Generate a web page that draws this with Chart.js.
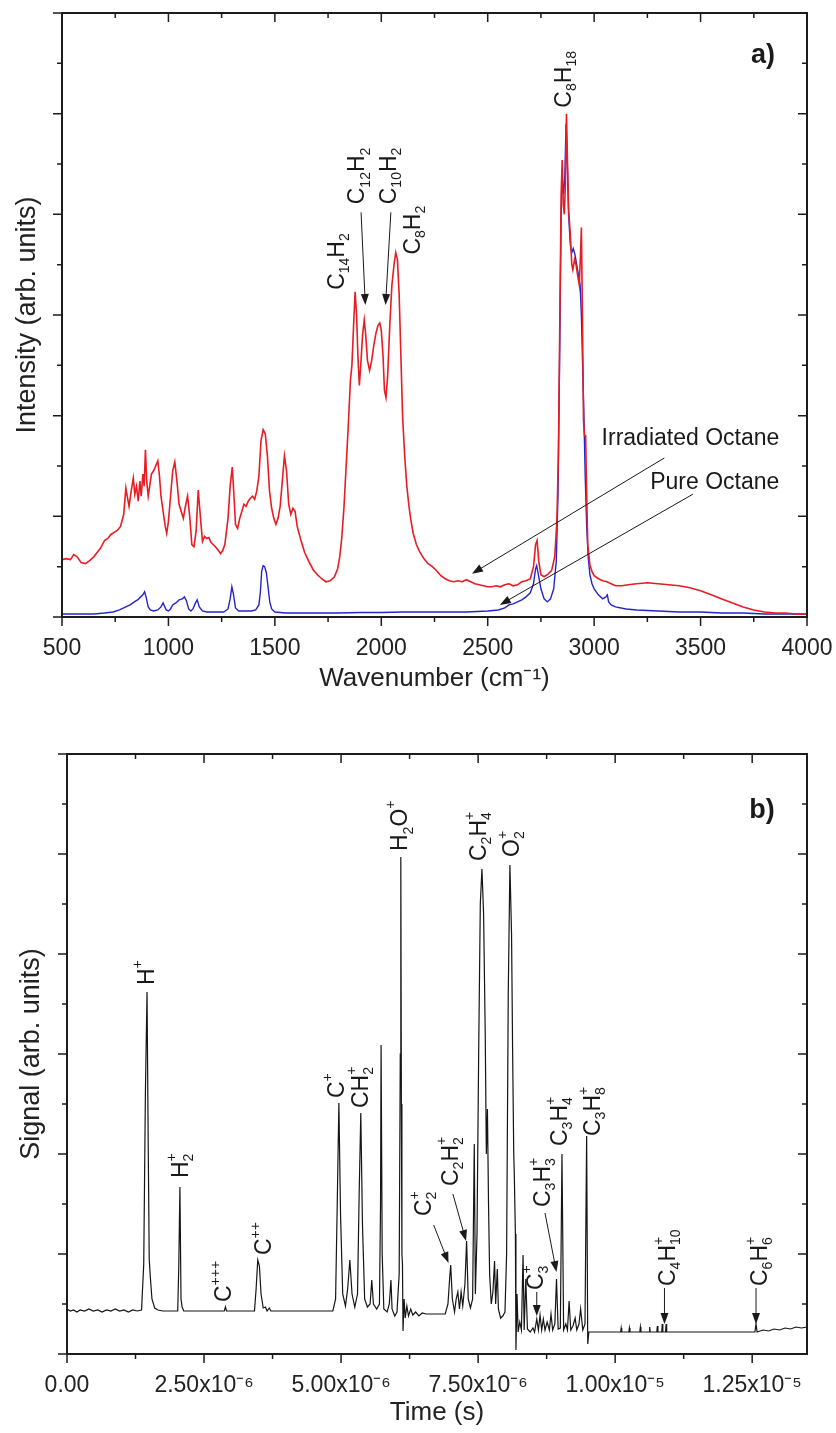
<!DOCTYPE html>
<html lang="en">
<head>
    <meta charset="UTF-8">
    <title>Raman and TOF spectra of octane</title>
    <style>
        * { margin: 0; padding: 0; }
        body { width: 836px; height: 1433px; background: #fff; position: relative; overflow: hidden; }
        canvas { position: absolute; left: 0; }
        #ramanChart { top: 0; }
        #tofChart { top: 705px; }
    </style>
</head>
<body>
    <canvas id="ramanChart" width="836" height="705"></canvas>
    <canvas id="tofChart" width="836" height="728"></canvas>

    <script src="https://cdn.jsdelivr.net/npm/chart.js"></script>
    <script>
        // ---- a) Raman spectra (wavenumber in cm-1, intensity arb. units) ----
        const irradiatedWavenumber = [500, 520, 540, 555, 570, 590, 610, 630, 650, 665, 680, 700, 715, 730, 745, 760, 775, 790, 800, 808, 815, 825, 835, 842, 850, 858, 866, 872, 880, 886, 892, 898, 905, 912, 920, 930, 940, 950, 958, 965, 975, 985, 992, 1000, 1010, 1020, 1030, 1040, 1050, 1060, 1070, 1080, 1090, 1100, 1110, 1120, 1130, 1140, 1150, 1160, 1170, 1180, 1190, 1200, 1210, 1220, 1235, 1245, 1255, 1265, 1280, 1290, 1300, 1308, 1315, 1325, 1335, 1345, 1355, 1365, 1375, 1385, 1395, 1405, 1415, 1425, 1435, 1445, 1455, 1465, 1475, 1485, 1495, 1505, 1515, 1525, 1535, 1545, 1555, 1565, 1575, 1585, 1595, 1605, 1620, 1640, 1660, 1680, 1700, 1720, 1740, 1760, 1780, 1795, 1805, 1815, 1825, 1835, 1845, 1855, 1862, 1870, 1877, 1884, 1890, 1897, 1905, 1912, 1920, 1927, 1935, 1945, 1955, 1965, 1975, 1985, 1993, 2000, 2008, 2015, 2022, 2030, 2040, 2050, 2060, 2068, 2076, 2084, 2092, 2100, 2110, 2120, 2130, 2140, 2150, 2165, 2180, 2200, 2220, 2240, 2260, 2280, 2300, 2320, 2340, 2360, 2380, 2400, 2420, 2440, 2460, 2480, 2500, 2520, 2540, 2560, 2580, 2600, 2620, 2640, 2660, 2680, 2700, 2715, 2725, 2732, 2740, 2750, 2765, 2780, 2800, 2815, 2825, 2832, 2838, 2845, 2850, 2855, 2860, 2865, 2870, 2875, 2880, 2888, 2895, 2900, 2908, 2915, 2922, 2930, 2936, 2940, 2945, 2950, 2955, 2960, 2965, 2970, 2980, 2990, 3000, 3020, 3040, 3060, 3080, 3100, 3130, 3160, 3200, 3250, 3300, 3350, 3400, 3450, 3500, 3550, 3600, 3650, 3700, 3750, 3800, 3850, 3900, 3950, 4000];
        const irradiatedIntensity = [0.57, 0.58, 0.57, 0.62, 0.6, 0.54, 0.53, 0.56, 0.6, 0.64, 0.68, 0.76, 0.78, 0.82, 0.84, 0.86, 0.9, 1.02, 1.28, 1.18, 1.1, 1.25, 1.38, 1.22, 1.3, 1.15, 1.35, 1.2, 1.42, 1.3, 1.66, 1.35, 1.2, 1.3, 1.42, 1.45, 1.5, 1.55, 1.4, 1.2, 1.05, 0.9, 0.83, 0.95, 1.2, 1.45, 1.54, 1.35, 1.12, 1.05, 0.98, 1.1, 1.2, 1.0, 0.72, 0.7, 0.85, 1.26, 1.0, 0.75, 0.8, 0.78, 0.79, 0.74, 0.72, 0.7, 0.66, 0.63, 0.66, 0.72, 0.98, 1.3, 1.49, 1.2, 0.92, 0.88, 0.98, 1.05, 1.12, 1.1, 1.15, 1.18, 1.2, 1.17, 1.25, 1.4, 1.75, 1.86, 1.82, 1.6, 1.25, 1.08, 0.98, 0.92, 0.98, 1.1, 1.35, 1.6, 1.45, 1.12, 1.02, 1.08, 1.05, 0.9, 0.78, 0.64, 0.55, 0.47, 0.42, 0.38, 0.35, 0.36, 0.4, 0.48, 0.6, 0.8, 1.1, 1.5, 1.9, 2.35, 2.5, 2.9, 3.23, 3.0, 2.6, 2.3, 2.55, 2.8, 2.95, 2.8, 2.55, 2.45, 2.55, 2.7, 2.82, 2.9, 2.92, 2.85, 2.6, 2.25, 2.18, 2.4, 2.9, 3.3, 3.5, 3.62, 3.55, 3.2, 2.6, 2.0, 1.6, 1.3, 1.1, 0.95, 0.83, 0.72, 0.65, 0.58, 0.53, 0.5, 0.46, 0.41, 0.38, 0.36, 0.35, 0.36, 0.35, 0.37, 0.35, 0.33, 0.32, 0.31, 0.3, 0.3, 0.31, 0.3, 0.32, 0.33, 0.31, 0.32, 0.35, 0.36, 0.38, 0.5, 0.72, 0.76, 0.55, 0.42, 0.4, 0.42, 0.46, 0.6, 0.95, 1.6, 2.8, 4.2, 4.54, 4.1, 4.0, 4.3, 5.0, 4.5, 4.05, 3.8, 3.5, 3.45, 3.55, 3.5, 3.4, 3.3, 3.6, 3.87, 3.0, 1.95, 1.8, 1.8, 1.2, 0.72, 0.52, 0.45, 0.41, 0.38, 0.36, 0.35, 0.33, 0.31, 0.31, 0.32, 0.33, 0.34, 0.33, 0.32, 0.31, 0.29, 0.26, 0.22, 0.18, 0.14, 0.1, 0.07, 0.05, 0.04, 0.04, 0.03, 0.03];

        const pureWavenumber = [500, 550, 600, 650, 700, 740, 770, 800, 820, 840, 855, 870, 880, 888, 895, 905, 915, 930, 950, 965, 975, 983, 990, 1000, 1010, 1020, 1035, 1050, 1065, 1075, 1085, 1095, 1105, 1115, 1125, 1135, 1145, 1160, 1180, 1200, 1230, 1260, 1280, 1290, 1298, 1306, 1315, 1330, 1360, 1390, 1410, 1425, 1432, 1438, 1445, 1452, 1460, 1468, 1476, 1485, 1500, 1550, 1600, 1700, 1800, 1900, 2000, 2100, 2200, 2300, 2400, 2500, 2550, 2580, 2600, 2620, 2640, 2660, 2680, 2700, 2715, 2725, 2730, 2738, 2750, 2765, 2780, 2795, 2810, 2822, 2830, 2838, 2845, 2850, 2856, 2862, 2868, 2874, 2880, 2888, 2895, 2902, 2910, 2918, 2926, 2934, 2940, 2946, 2952, 2958, 2965, 2972, 2980, 2990, 3000, 3020, 3040, 3055, 3062, 3068, 3080, 3100, 3150, 3200, 3300, 3400, 3500, 3600, 3700, 3800, 3900, 4000];
        const pureIntensity = [0.03, 0.03, 0.03, 0.03, 0.04, 0.05, 0.07, 0.1, 0.12, 0.15, 0.17, 0.2, 0.22, 0.25, 0.2, 0.1, 0.07, 0.06, 0.07, 0.1, 0.14, 0.1, 0.07, 0.06, 0.08, 0.12, 0.14, 0.17, 0.18, 0.2, 0.16, 0.08, 0.06, 0.08, 0.13, 0.17, 0.1, 0.06, 0.05, 0.05, 0.05, 0.05, 0.08, 0.18, 0.3, 0.22, 0.09, 0.06, 0.06, 0.06, 0.07, 0.12, 0.25, 0.45, 0.51, 0.5, 0.44, 0.3, 0.15, 0.08, 0.05, 0.04, 0.04, 0.04, 0.04, 0.045, 0.045, 0.05, 0.05, 0.05, 0.05, 0.06, 0.07, 0.09, 0.12, 0.13, 0.15, 0.17, 0.2, 0.24, 0.33, 0.48, 0.51, 0.42, 0.28, 0.18, 0.15, 0.18, 0.28, 0.55, 1.2, 2.6, 4.0, 4.37, 4.2, 4.35, 4.9, 4.5, 4.0, 3.7, 3.62, 3.66, 3.6, 3.5, 3.4, 3.3, 3.0, 2.5, 2.0, 1.4, 0.9, 0.6, 0.42, 0.33, 0.28, 0.22, 0.18, 0.2, 0.22, 0.15, 0.12, 0.1, 0.08, 0.07, 0.06, 0.05, 0.05, 0.04, 0.04, 0.03, 0.03, 0.03];

        const ramanTickValues = [500, 1000, 1500, 2000, 2500, 3000, 3500, 4000];
        const ramanTickLabels = ['500', '1000', '1500', '2000', '2500', '3000', '3500', '4000'];
        const ramanMinorTicks = [750, 1250, 1750, 2250, 2750, 3250, 3750];

        // ---- b) time-of-flight mass spectrum (time in microseconds) ----
        const tofTime = [0.00, 0.06, 0.12, 0.18, 0.24, 0.32, 0.40, 0.48, 0.56, 0.64, 0.72, 0.80, 0.88, 0.96, 1.04, 1.12, 1.20, 1.28, 1.36, 1.40, 1.43, 1.46, 1.48, 1.50, 1.52, 1.55, 1.60, 1.66, 1.75, 1.90, 2.02, 2.04, 2.06, 2.08, 2.10, 2.13, 2.50, 2.87, 2.89, 2.91, 3.42, 3.45, 3.48, 3.51, 3.54, 3.58, 3.62, 3.65, 3.69, 3.72, 4.85, 4.90, 4.93, 4.96, 4.99, 5.03, 5.08, 5.12, 5.16, 5.20, 5.25, 5.30, 5.33, 5.36, 5.39, 5.43, 5.48, 5.53, 5.56, 5.59, 5.65, 5.70, 5.72, 5.73, 5.75, 5.78, 5.84, 5.88, 5.91, 5.93, 5.98, 6.02, 6.06, 6.08, 6.09, 6.10, 6.11, 6.12, 6.13, 6.15, 6.17, 6.20, 6.23, 6.27, 6.31, 6.36, 6.42, 6.48, 6.55, 6.90, 6.95, 6.98, 7.00, 7.03, 7.07, 7.10, 7.13, 7.16, 7.19, 7.22, 7.26, 7.29, 7.32, 7.36, 7.40, 7.43, 7.45, 7.48, 7.51, 7.54, 7.57, 7.60, 7.63, 7.65, 7.67, 7.69, 7.71, 7.74, 7.77, 7.80, 7.82, 7.85, 7.87, 7.91, 7.95, 7.99, 8.02, 8.05, 8.08, 8.11, 8.13, 8.15, 8.16, 8.18, 8.19, 8.21, 8.23, 8.26, 8.29, 8.32, 8.34, 8.37, 8.40, 8.45, 8.50, 8.53, 8.57, 8.60, 8.63, 8.66, 8.69, 8.72, 8.76, 8.80, 8.83, 8.86, 8.90, 8.93, 8.96, 9.00, 9.03, 9.06, 9.10, 9.13, 9.16, 9.19, 9.23, 9.27, 9.30, 9.34, 9.37, 9.41, 9.45, 9.48, 9.50, 9.52, 10.10, 10.11, 10.12, 10.25, 10.26, 10.27, 10.45, 10.46, 10.47, 10.62, 10.63, 10.64, 10.76, 10.77, 10.78, 10.85, 10.86, 10.87, 10.92, 10.93, 10.94, 12.55, 12.57, 12.59, 12.70, 12.80, 12.90, 13.00, 13.10, 13.20, 13.30, 13.40, 13.50];
        const tofSignal = [0.45, 0.43, 0.44, 0.42, 0.44, 0.43, 0.45, 0.43, 0.44, 0.42, 0.44, 0.43, 0.45, 0.43, 0.44, 0.42, 0.44, 0.43, 0.44, 0.9, 2.6, 3.62, 2.2, 0.95, 0.77, 0.55, 0.46, 0.44, 0.43, 0.43, 0.43, 0.9, 1.67, 0.55, 0.47, 0.43, 0.43, 0.43, 0.47, 0.43, 0.43, 0.65, 0.94, 0.88, 0.6, 0.46, 0.47, 0.43, 0.46, 0.43, 0.43, 0.55, 1.5, 2.51, 1.4, 0.6, 0.48, 0.65, 0.94, 0.6, 0.47, 0.6, 1.6, 2.41, 1.3, 0.55, 0.47, 0.5, 0.74, 0.5, 0.45, 0.5, 1.5, 3.09, 1.0, 0.45, 0.42, 0.5, 0.74, 0.45, 0.38, 0.42, 0.8, 3.0, 4.97, 2.5, 1.0, 0.9, 0.23, 0.55, 0.36, 0.48, 0.38, 0.45, 0.39, 0.42, 0.38, 0.41, 0.40, 0.40, 0.5, 0.75, 0.89, 0.55, 0.42, 0.55, 0.62, 0.45, 0.62, 0.48, 0.7, 1.13, 0.55, 0.46, 0.55, 2.1, 0.6, 1.2, 3.0, 4.5, 4.85, 4.4, 3.2, 2.0, 2.45, 1.5, 0.8, 0.5, 0.62, 0.93, 0.5, 0.85, 0.45, 0.36, 0.38, 0.42, 1.0, 3.6, 4.89, 4.2, 3.0, 2.0, 1.8, 1.2, 0.04, 0.6, 0.22, 0.32, 0.24, 0.99, 0.24, 0.75, 0.25, 0.22, 0.26, 0.22, 0.35, 0.24, 0.39, 0.24, 0.35, 0.24, 0.32, 0.24, 0.4, 0.24, 0.3, 0.75, 0.25, 0.26, 2.0, 0.24, 0.3, 0.24, 0.53, 0.24, 0.28, 0.36, 0.24, 0.3, 0.45, 0.24, 0.3, 2.18, 0.1, 0.22, 0.22, 0.26, 0.22, 0.22, 0.26, 0.22, 0.22, 0.27, 0.22, 0.22, 0.27, 0.22, 0.22, 0.28, 0.22, 0.22, 0.3, 0.22, 0.22, 0.3, 0.22, 0.22, 0.3, 0.22, 0.24, 0.23, 0.25, 0.24, 0.26, 0.25, 0.27, 0.26, 0.27];

        const tofTickValues = [0, 2.5, 5, 7.5, 10, 12.5];
        const tofTickLabels = ['0.00', '2.50x10⁻⁶', '5.00x10⁻⁶', '7.50x10⁻⁶', '1.00x10⁻⁵', '1.25x10⁻⁵'];
        const tofMinorTicks = [1.25, 3.75, 6.25, 8.75, 11.25];

        // both panels use arbitrary intensity units from 0 to 6
        const signalMajorTicks = [0, 1, 2, 3, 4, 5, 6];
        const signalMinorTicks = [0.5, 1.5, 2.5, 3.5, 4.5, 5.5];

        const FONT = '"Liberation Sans", Arial, sans-serif';

        // frame with inward ticks on top/right and outward ticks on bottom/left
        const frameTicks = {
            id: 'frameTicks',
            afterDraw(chart, args, opts) {
                const { ctx, chartArea: a, scales: { x, y } } = chart;
                ctx.save();
                ctx.strokeStyle = '#1c1c1c';
                ctx.lineWidth = 1.5;
                ctx.beginPath();
                const mark = (vals, len, horizontal) => {
                    vals.forEach(v => {
                        if (horizontal) {
                            const px = x.getPixelForValue(v);
                            ctx.moveTo(px, a.bottom); ctx.lineTo(px, a.bottom + len);
                            ctx.moveTo(px, a.top); ctx.lineTo(px, a.top + len);
                        } else {
                            const py = y.getPixelForValue(v);
                            ctx.moveTo(a.left, py); ctx.lineTo(a.left - len, py);
                            ctx.moveTo(a.right, py); ctx.lineTo(a.right - len, py);
                        }
                    });
                };
                mark(opts.xMajor, 9, true);
                mark(opts.xMinor, 5, true);
                mark(opts.yMajor, 9, false);
                mark(opts.yMinor, 5, false);
                ctx.stroke();
                ctx.lineWidth = 2;
                ctx.strokeRect(a.left, a.top, a.right - a.left, a.bottom - a.top);
                ctx.restore();
            }
        };

        function parseFormula(s) {
            const parts = [];
            const re = /_(\d+)|\^(\++)|([A-Za-z]+)/g;
            let m;
            while ((m = re.exec(s))) {
                if (m[1]) parts.push([m[1], 'sub']);
                else if (m[2]) parts.push([m[2], 'sup']);
                else parts.push([m[3], '']);
            }
            return parts;
        }

        // rotated chemical formula, starting at (px, py) and reading upwards
        function drawFormula(ctx, text, px, py, size) {
            const sub = Math.round(size * 0.62);
            ctx.save();
            ctx.translate(px, py);
            ctx.rotate(-Math.PI / 2);
            ctx.textBaseline = 'middle';
            ctx.textAlign = 'left';
            let pos = 0;
            let lastSub = null;
            parseFormula(text).forEach(([t, kind]) => {
                if (kind === '') {
                    ctx.font = size + 'px ' + FONT;
                    ctx.fillText(t, pos, 0);
                    pos += ctx.measureText(t).width;
                    lastSub = null;
                } else if (kind === 'sub') {
                    ctx.font = sub + 'px ' + FONT;
                    const w = ctx.measureText(t).width;
                    ctx.fillText(t, pos, size * 0.34);
                    lastSub = pos;
                    pos += w;
                } else {
                    ctx.font = sub + 'px ' + FONT;
                    const w = ctx.measureText(t).width;
                    const start = lastSub !== null ? lastSub : pos;
                    ctx.fillText(t, start, -size * 0.4);
                    pos = Math.max(pos, start + w);
                }
            });
            ctx.restore();
        }

        function drawArrow(ctx, x1, y1, x2, y2) {
            const ang = Math.atan2(y2 - y1, x2 - x1);
            const hl = 11, hw = 4;
            ctx.beginPath();
            ctx.moveTo(x1, y1);
            ctx.lineTo(x2 - Math.cos(ang) * hl * 0.8, y2 - Math.sin(ang) * hl * 0.8);
            ctx.stroke();
            ctx.beginPath();
            ctx.moveTo(x2, y2);
            ctx.lineTo(x2 - Math.cos(ang) * hl - Math.sin(ang) * hw, y2 - Math.sin(ang) * hl + Math.cos(ang) * hw);
            ctx.lineTo(x2 - Math.cos(ang) * hl + Math.sin(ang) * hw, y2 - Math.sin(ang) * hl - Math.cos(ang) * hw);
            ctx.closePath();
            ctx.fill();
        }

        const specAnno = {
            id: 'specAnno',
            afterDatasetsDraw(chart, args, opts) {
                const { ctx, scales: { x, y } } = chart;
                ctx.save();
                ctx.fillStyle = '#1a1a1a';
                ctx.strokeStyle = '#1a1a1a';
                ctx.lineWidth = 1;
                (opts.formulas || []).forEach(f => {
                    drawFormula(ctx, f.text, x.getPixelForValue(f.x), y.getPixelForValue(f.y), 23);
                });
                (opts.arrows || []).forEach(a => {
                    drawArrow(ctx, x.getPixelForValue(a[0]), y.getPixelForValue(a[1]),
                        x.getPixelForValue(a[2]), y.getPixelForValue(a[3]));
                });
                (opts.texts || []).forEach(t => {
                    ctx.font = (t.bold ? 'bold ' : '') + t.size + 'px ' + FONT;
                    ctx.textAlign = t.align || 'center';
                    ctx.textBaseline = 'middle';
                    ctx.fillText(t.text, x.getPixelForValue(t.x), y.getPixelForValue(t.y));
                });
                ctx.restore();
            }
        };

        function toPoints(xs, ys) {
            return xs.map((v, i) => ({ x: v, y: ys[i] }));
        }

        function baseOptions(cfg) {
            return {
                responsive: false,
                animation: false,
                devicePixelRatio: 1,
                layout: { padding: { top: cfg.top, right: 29, left: 0, bottom: 0 } },
                elements: { point: { radius: 0 }, line: { tension: 0 } },
                plugins: {
                    legend: { display: false },
                    tooltip: { enabled: false },
                    frameTicks: cfg.frame,
                    specAnno: cfg.anno
                },
                scales: {
                    x: {
                        type: 'linear',
                        min: cfg.xMin,
                        max: cfg.xMax,
                        afterBuildTicks: s => { s.ticks = cfg.tickValues.map(v => ({ value: v })); },
                        afterFit: s => {
                            s.height = cfg.xHeight;
                            // edge labels may hang over the frame; keep the plot area fixed
                            s.paddingLeft = 0;
                            s.paddingRight = 0;
                        },
                        ticks: {
                            autoSkip: false,
                            maxRotation: 0,
                            padding: 18,
                            color: '#222',
                            font: { family: FONT, size: 23 },
                            callback: v => cfg.tickLabels[cfg.tickValues.indexOf(v)]
                        },
                        grid: { display: false, drawTicks: false },
                        border: { display: false },
                        title: {
                            display: true,
                            text: cfg.xTitle,
                            color: '#222',
                            font: { family: FONT, size: 26 },
                            padding: { top: 0, bottom: cfg.xTitlePad }
                        }
                    },
                    y: {
                        min: 0,
                        max: 6,
                        afterFit: s => { s.width = cfg.yWidth; },
                        ticks: { display: false },
                        grid: { display: false, drawTicks: false },
                        border: { display: false },
                        title: {
                            display: true,
                            text: cfg.yTitle,
                            color: '#222',
                            font: { family: FONT, size: 27 },
                            padding: { top: cfg.yTitlePad, bottom: 0 }
                        }
                    }
                }
            };
        }

        new Chart(document.getElementById('ramanChart'), {
            type: 'line',
            data: {
                datasets: [
                    { label: 'Irradiated Octane', data: toPoints(irradiatedWavenumber, irradiatedIntensity), borderColor: 'rgb(232,28,36)', borderWidth: 1.6 },
                    { label: 'Pure Octane', data: toPoints(pureWavenumber, pureIntensity), borderColor: 'rgb(36,36,205)', borderWidth: 1.4 }
                ]
            },
            options: baseOptions({
                top: 13, xMin: 500, xMax: 4000, xHeight: 88, yWidth: 62,
                xTitlePad: 11, yTitlePad: 11,
                tickValues: ramanTickValues, tickLabels: ramanTickLabels,
                xTitle: 'Wavenumber (cm⁻¹)', yTitle: 'Intensity (arb. units)',
                frame: { xMajor: ramanTickValues, xMinor: ramanMinorTicks, yMajor: signalMajorTicks, yMinor: signalMinorTicks },
                anno: {
                    formulas: [
                        { text: 'C_14H_2', x: 1795, y: 3.25 },
                        { text: 'C_12H_2', x: 1890, y: 4.1 },
                        { text: 'C_10H_2', x: 2040, y: 4.1 },
                        { text: 'C_8H_2', x: 2150, y: 3.6 },
                        { text: 'C_8H_18', x: 2860, y: 5.06 }
                    ],
                    arrows: [
                        [1905, 4.02, 1925, 3.1],
                        [2045, 4.02, 2020, 3.1],
                        [3330, 1.58, 2426, 0.43],
                        [3464, 1.22, 2557, 0.12]
                    ],
                    texts: [
                        { text: 'Irradiated Octane', x: 3870, y: 1.77, size: 23, align: 'right' },
                        { text: 'Pure Octane', x: 3870, y: 1.33, size: 23, align: 'right' },
                        { text: 'a)', x: 3793, y: 5.58, size: 27, bold: true }
                    ]
                }
            }),
            plugins: [frameTicks, specAnno]
        });

        new Chart(document.getElementById('tofChart'), {
            type: 'line',
            data: {
                datasets: [
                    { label: 'Signal', data: toPoints(tofTime, tofSignal), borderColor: '#151515', borderWidth: 1.2 }
                ]
            },
            options: baseOptions({
                top: 49, xMin: 0, xMax: 13.5, xHeight: 79, yWidth: 67,
                xTitlePad: 5, yTitlePad: 15,
                tickValues: tofTickValues, tickLabels: tofTickLabels,
                xTitle: 'Time (s)', yTitle: 'Signal (arb. units)',
                frame: { xMajor: tofTickValues, xMinor: tofMinorTicks, yMajor: signalMajorTicks, yMinor: signalMinorTicks },
                anno: {
                    formulas: [
                        { text: 'H^+', x: 1.47, y: 3.69 },
                        { text: 'H_2^+', x: 2.09, y: 1.76 },
                        { text: 'C^+++', x: 2.88, y: 0.52 },
                        { text: 'C^++', x: 3.61, y: 0.99 },
                        { text: 'C^+', x: 4.93, y: 2.56 },
                        { text: 'CH_2^+', x: 5.37, y: 2.46 },
                        { text: 'H_2O^+', x: 6.09, y: 5.03 },
                        { text: 'C_2H_4^+', x: 7.52, y: 4.93 },
                        { text: 'O_2^+', x: 8.13, y: 4.97 },
                        { text: 'C_2^+', x: 6.52, y: 1.38 },
                        { text: 'C_2H_2^+', x: 7.02, y: 1.68 },
                        { text: 'C_3^+', x: 8.57, y: 0.64 },
                        { text: 'C_3H_3^+', x: 8.69, y: 1.47 },
                        { text: 'C_3H_4^+', x: 9.0, y: 2.08 },
                        { text: 'C_3H_8^+', x: 9.6, y: 2.18 },
                        { text: 'C_4H_10^+', x: 10.97, y: 0.68 },
                        { text: 'C_6H_6^+', x: 12.65, y: 0.68 }
                    ],
                    arrows: [
                        [6.69, 1.29, 6.96, 0.91],
                        [7.04, 1.6, 7.28, 1.13],
                        [8.57, 0.62, 8.57, 0.38],
                        [8.72, 1.41, 8.93, 0.82],
                        [10.9, 0.66, 10.9, 0.3],
                        [12.57, 0.66, 12.57, 0.3]
                    ],
                    texts: [
                        { text: 'b)', x: 12.68, y: 5.43, size: 27, bold: true }
                    ]
                }
            }),
            plugins: [frameTicks, specAnno]
        });
    </script>
</body>
</html>
